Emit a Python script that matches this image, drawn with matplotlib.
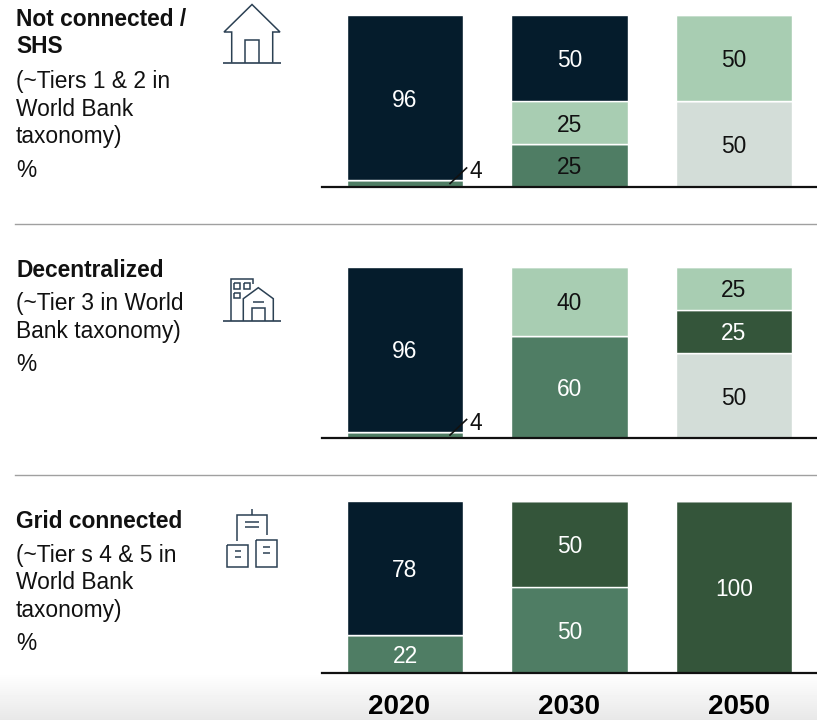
import numpy as np
import matplotlib
matplotlib.use("Agg")
import matplotlib.pyplot as plt

W, H = 817, 720
plt.rcParams['font.family'] = ['Liberation Sans', 'DejaVu Sans']

years = ['2020', '2030', '2050']

# Stack order runs from the baseline upward
pale = [[0, 0, 50], [0, 0, 50], [0, 0, 0]]
mid = [[4, 25, 0], [4, 60, 0], [22, 50, 0]]
dark = [[0, 0, 0], [0, 0, 25], [0, 50, 100]]
light = [[0, 25, 50], [0, 40, 25], [0, 0, 0]]
navy = [[96, 50, 0], [96, 0, 0], [78, 0, 0]]

series = [pale, mid, dark, light, navy]
colors = ['#D3DDD8', '#4F7D64', '#34553A', '#A8CDB2', '#051C2C']
text_colors = ['#111111', '#ffffff', '#ffffff', '#111111', '#ffffff']

panel_spans = [(15, 187), (267, 438.5), (501, 673)]
panel_titles = [['Not connected /', 'SHS'], ['Decentralized'], ['Grid connected']]
panel_notes = [
    ['(~Tiers 1 & 2 in', 'World Bank', 'taxonomy)'],
    ['(~Tier 3 in World', 'Bank taxonomy)'],
    ['(~Tier s 4 & 5 in', 'World Bank', 'taxonomy)'],
]
title_baselines = [[26, 53], [277], [528]]
note_baselines = [[88, 116, 143], [310, 338], [562, 589, 617]]
unit_baselines = [177, 371, 650]

fig = plt.figure(figsize=(W / 100, H / 100), dpi=100, facecolor='white')

# Pixel-space layer behind everything, holding the soft grey band at the foot
bg = fig.add_axes([0, 0, 1, 1], zorder=0)
bg.set_xlim(0, W)
bg.set_ylim(H, 0)
bg.axis('off')
shade = np.linspace(1.0, 0.91, 48).reshape(-1, 1)
bg.imshow(shade, extent=(0, W, 720, 672), cmap='gray', vmin=0, vmax=1, aspect='auto')
bg.set_xlim(0, W)
bg.set_ylim(H, 0)

x_left, x_right = 322, 817
unit = 164.5
x0 = (x_left - 405) / unit
x1 = (x_right - 405) / unit

for p, (top, base) in enumerate(panel_spans):
    ax = fig.add_axes([x_left / W, 1 - base / H, (x_right - x_left) / W, (base - top) / H],
                      zorder=1)
    ax.patch.set_alpha(0)
    ax.set_xlim(x0, x1)
    ax.set_ylim(0, 100)
    for s in ax.spines.values():
        s.set_visible(False)
    ax.spines['bottom'].set_visible(True)
    ax.spines['bottom'].set_linewidth(1.6)
    ax.spines['bottom'].set_color('#111111')
    ax.set_xticks([])
    ax.set_yticks([])
    bottom = np.zeros(3)
    for vals, col, tcol in zip(series, colors, text_colors):
        v = np.array(vals[p], dtype=float)
        ax.bar(range(3), v, bottom=bottom, width=0.706, color=col,
               edgecolor='white', linewidth=1.0, clip_on=False)
        for i, val in enumerate(v):
            if val > 5:
                # The 25 share in the top panel is set in dark type
                c = '#111111' if (col == '#4F7D64' and val == 25) else tcol
                ax.text(i, bottom[i] + val / 2, f'{val:.0f}', ha='center', va='center_baseline',
                        color=c, fontsize=16.4)
            elif val > 0:
                # Thin segments carry their label outside, joined by a short leader
                ax.plot([i + 0.27, i + 0.378], [val * 0.42, val * 2.85], color='#111111',
                        lw=1.2, zorder=5, solid_capstyle='butt')
                ax.text(i + 0.43, val * 2.6, f'{val:.0f}', ha='center', va='center_baseline',
                        fontsize=16.4, color='#111111', zorder=5)
        bottom += v

# Pixel-space layer on top for captions, rules, year labels and icons
ov = fig.add_axes([0, 0, 1, 1], zorder=2)
ov.patch.set_alpha(0)
ov.set_xlim(0, W)
ov.set_ylim(H, 0)
ov.axis('off')

for y in (224, 475):
    ov.plot([15, 817], [y, y], color='#a0a0a0', lw=1.0)

for p in range(3):
    for s, y in zip(panel_titles[p], title_baselines[p]):
        ov.text(16, y, s, fontsize=16.4, fontweight='bold', va='baseline', color='#111111')
    for s, y in zip(panel_notes[p], note_baselines[p]):
        ov.text(16, y, s, fontsize=16.4, va='baseline', color='#111111')
    ov.text(16, unit_baselines[p], '%', fontsize=16.4, va='baseline', color='#111111')

for label, x in zip(years, (399.5, 569, 739)):
    ov.text(x, 714, label, fontsize=20, fontweight='bold', ha='center', va='baseline', color='black')


def stroke(xs, ys, lw=1.1):
    ov.plot(xs, ys, color='#2b4053', lw=lw, solid_joinstyle='miter', solid_capstyle='butt')


def box(x0_, y0_, x1_, y1_, lw=1.1):
    stroke([x0_, x1_, x1_, x0_, x0_], [y0_, y0_, y1_, y1_, y0_], lw)


# House icon
stroke([231.7, 231.7, 224, 252, 280, 272.7, 272.7], [62.7, 32, 32, 4.5, 32, 32, 62.7])
stroke([245.3, 245.3, 259, 259], [62.7, 40.3, 40.3, 62.7])
stroke([223, 281], [62.7, 62.7], 1.2)

# Tower and house icon
stroke([230.7, 230.7, 253.3, 253.3], [321, 278.7, 278.7, 284])
box(234.3, 283.3, 240, 289)
box(244.3, 283.3, 250, 289)
box(234.3, 292.7, 240, 298.3)
stroke([243.3, 243.3, 258.3, 273.3, 273.3], [321, 298.7, 287.7, 298.7, 321])
stroke([252.7, 264], [302.3, 302.3])
stroke([252, 252, 264.7, 264.7], [321, 308.3, 308.3, 321])
stroke([223.3, 281], [321, 321], 1.2)

# Grid cabinets icon
stroke([252, 252], [509, 514.7])
stroke([237.3, 237.3, 266.7, 266.7], [540.7, 514.7, 514.7, 535])
stroke([245.3, 259], [521.7, 521.7])
stroke([245.3, 259], [527.3, 527.3])
box(227, 545.3, 248.3, 566.7)
box(255.7, 540, 277.3, 566.7)
stroke([234.7, 240.7], [551.3, 551.3])
stroke([234.7, 240.7], [557, 557])
stroke([263.3, 269.7], [547.3, 547.3])
stroke([263.3, 269.7], [553, 553])

fig.savefig('out.png', dpi=100)
